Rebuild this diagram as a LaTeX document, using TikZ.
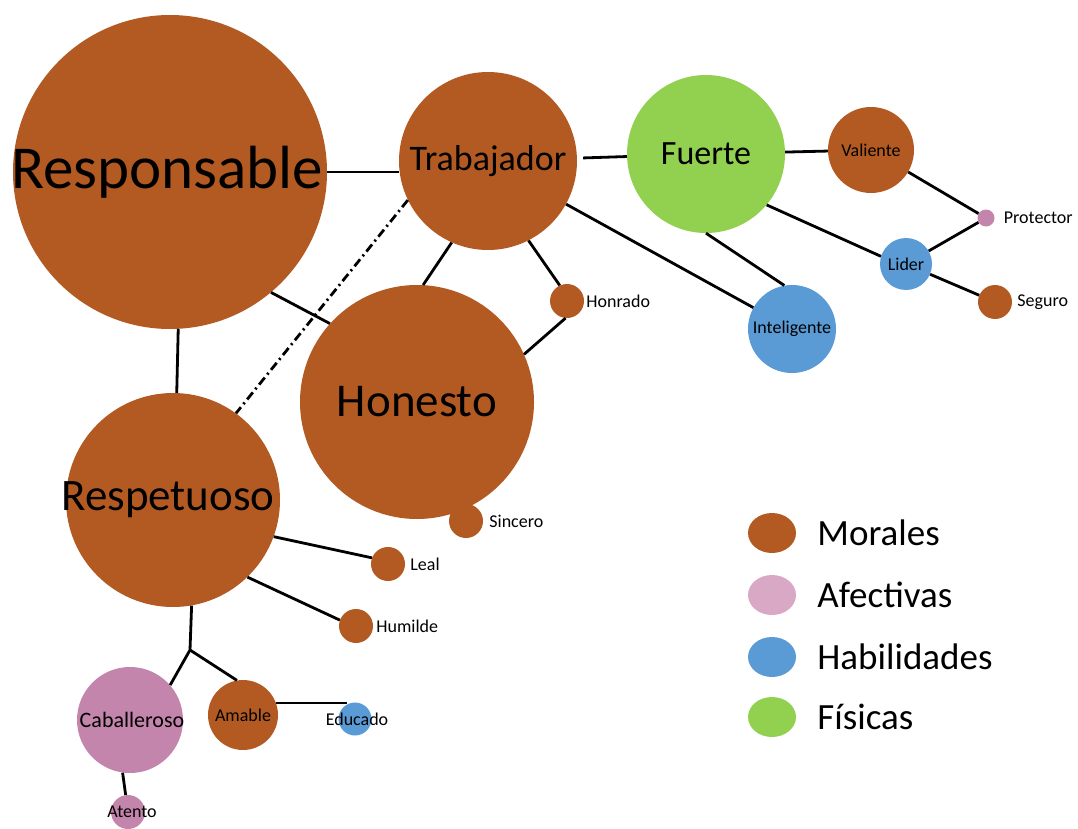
\documentclass[tikz,border=0pt]{standalone}
\usepackage{fontspec}
\setmainfont{Carlito}
\usetikzlibrary{positioning,shapes.geometric}

\definecolor{moralc}{HTML}{B35A22}
\definecolor{afectc}{HTML}{C485AD}
\definecolor{afectlight}{HTML}{D9A8C5}
\definecolor{habilc}{HTML}{5B9BD5}
\definecolor{fisicc}{HTML}{92D050}

\newcommand{\nw}[1]{\makebox[0pt]{#1}}
\newcommand{\fs}[1]{\fontsize{#1}{#1}\selectfont}

\tikzset{
  bubble/.style={circle, inner sep=0pt, minimum size=#1},
  moral/.style={bubble=#1, fill=moralc},
  afect/.style={bubble=#1, fill=afectc},
  habil/.style={bubble=#1, fill=habilc},
  fisic/.style={bubble=#1, fill=fisicc},
  tag/.style={inner sep=0pt, font=\fs{18}},
  link/.style={line width=2.8pt},
  legdot/.style={ellipse, inner sep=0pt, minimum width=48pt, minimum height=40pt},
  legtxt/.style={inner sep=0pt, font=\fs{37}},
}

\begin{document}
\begin{tikzpicture}[x=1pt, y=-1pt]
	\useasboundingbox (0,0) rectangle (1078,829);
	% moral traits
	\node[moral=314pt, font=\fs{61}] (resp) at (170,172) {\nw{\hspace{-6pt}Responsable}};
	\node[moral=178pt, font=\fs{36}] (trab) at (488,161) {Trabajador};
	\node[moral=234pt, font=\fs{47}] (hone) at (417,402) {Honesto};
	\node[moral=214pt, font=\fs{45}] (resq) at (173,500) {\nw{\hspace{-10pt}Respetuoso}};
	\node[moral=86pt, font=\fs{18}] (vali) at (871,150) {Valiente};
	\node[moral=34pt] (honr) at (567,301) {};
	\node[moral=34pt] (segu) at (995,302) {};
	\node[moral=34pt] (sinc) at (466,521) {};
	\node[moral=34pt] (leal) at (388,564) {};
	\node[moral=34pt] (humi) at (356,626) {};
	\node[moral=70pt, font=\fs{18}] (amab) at (243,715) {Amable};
	% physical, skills, affective
	\node[fisic=158pt, font=\fs{34}] (fuer) at (706,154) {Fuerte};
	\node[habil=52pt, font=\fs{18}] (lide) at (906,264) {Lider};
	\node[habil=88pt, font=\fs{18}] (inte) at (792,329) {Inteligente};
	\node[habil=33pt, font=\fs{18}] (educ) at (355,719) {\nw{\hspace{4pt}Educado}};
	\node[afect=106pt, font=\fs{22}] (caba) at (130,720) {\nw{\hspace{4pt}Caballeroso}};
	\node[afect=17pt] (prot) at (986,218) {};
	\node[afect=34pt, font=\fs{18}] (aten) at (128,812) {\nw{\hspace{8pt}Atento}};
	% names beside the small dots
	\node[tag, right=9pt of prot] (prottxt) {Protector};
	\node[tag, right=5pt of segu] (segutxt) {Seguro};
	\node[tag, right=2pt of honr] (honrtxt) {Honrado};
	\node[tag, right=6pt of sinc] (sinctxt) {Sincero};
	\node[tag, right=5pt of leal] (lealtxt) {Leal};
	\node[tag, right=3pt of humi] (humitxt) {Humilde};
	% links
	\draw[link] (resp.east) -- (resp.east -| trab.west);
	\draw[link, shorten <=6pt] (trab) -- (fuer);
	\draw[link] (fuer) -- (vali);
	\draw[link] (vali) -- (prot);
	\draw[link] (lide) -- (prot);
	\draw[link] (fuer.-40) -- (lide.163);
	\draw[link] (lide) -- (segu);
	\draw[link] (fuer.-90) -- (inte.100);
	\draw[link] (trab) -- (inte);
	\draw[link] (trab.-63) -- (honr.115);
	\draw[link] (trab.-114) -- (hone.87);
	\draw[link] (honr.-95) -- (hone.24);
	\draw[link] (resp.-50) -- (hone.138);
	\draw[link] (resp.-87) -- (resq.88);
	\draw[link, dash pattern=on 9pt off 4pt on 2pt off 4pt] (trab.-154) -- (resq.54);
	\draw[link] (resq.-20) -- (leal.159);
	\draw[link] (resq.-46) -- (humi.160);
	\coordinate (fork) at (190,650);
	\draw[link] (resq.-80) -- (fork) -- (caba.41);
	\draw[link] (fork) -- (amab.100);
	\draw[link] (amab.20) -- (amab.20 -| educ.120);
	\draw[link] (caba.-98) -- (aten);
	% legend
	\node[legdot, fill=moralc] (lgmor) at (772,533) {};
	\node[legdot, fill=afectlight] (lgafe) at (772,595) {};
	\node[legdot, fill=habilc] (lghab) at (772,657) {};
	\node[legdot, fill=fisicc] (lgfis) at (772,717) {};
	\node[legtxt, right=21pt of lgmor] (lgmortxt) {Morales};
	\node[legtxt, right=21pt of lgafe] (lgafetxt) {Afectivas};
	\node[legtxt, right=21pt of lghab] (lghabtxt) {Habilidades};
	\node[legtxt, right=21pt of lgfis] (lgfistxt) {Físicas};
\end{tikzpicture}
\end{document}
